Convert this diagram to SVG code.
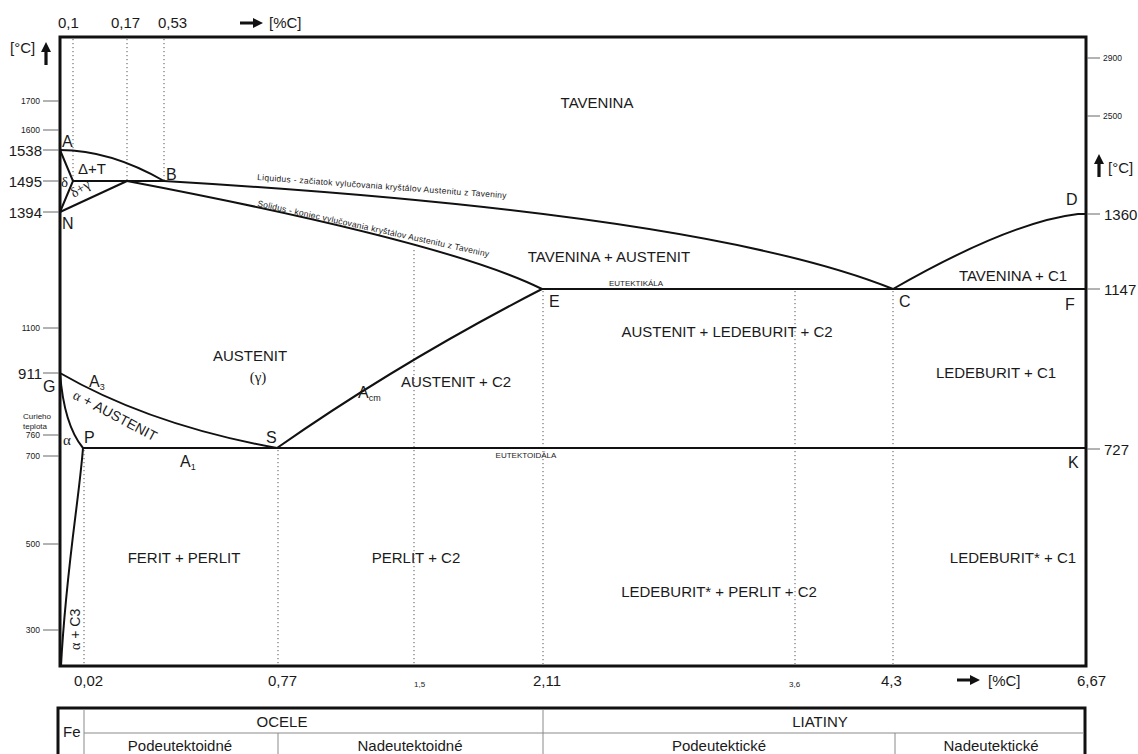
<svg xmlns="http://www.w3.org/2000/svg" width="1138" height="754" viewBox="0 0 1138 754">
<defs>
<style>
text { font-family: "Liberation Sans", Arial, sans-serif; fill: #1a1a1a; }
.big { font-size: 15px; }
.pt { font-size: 16px; }
.sm { font-size: 8.5px; }
.xs { font-size: 8px; }
.lab { font-size: 15px; text-anchor: middle; }
.gr { font-family: "Liberation Serif", "DejaVu Serif", serif; }
.frame { fill: none; stroke: #111; stroke-width: 3; }
.curve { fill: none; stroke: #111; stroke-width: 2; }
.dot { fill: none; stroke: #555; stroke-width: 1; stroke-dasharray: 1.2 2.8; }
.tick { stroke: #666; stroke-width: 1; }
.thin { fill: none; stroke: #8a8a8a; stroke-width: 1; }
.end { text-anchor: end; }
.mid { text-anchor: middle; }
</style>
<path id="arr" d="M0,-1.6 H13 V-5 L23,0 L13,5 V1.6 H0 Z" fill="#111"/>
</defs>
<rect width="1138" height="754" fill="#fff"/>

<g id="axes">
  <rect class="frame" x="60" y="37" width="1026" height="629"/>
  <g id="left-ticks">
    <line class="tick" x1="43" y1="101" x2="59" y2="101"/>
    <line class="tick" x1="43" y1="130" x2="59" y2="130"/>
    <line class="tick" x1="43" y1="150" x2="59" y2="150"/>
    <line class="tick" x1="43" y1="181" x2="59" y2="181"/>
    <line class="tick" x1="43" y1="212" x2="59" y2="212"/>
    <line class="tick" x1="43" y1="328" x2="59" y2="328"/>
    <line class="tick" x1="43" y1="373" x2="59" y2="373"/>
    <line class="tick" x1="43" y1="435" x2="59" y2="435"/>
    <line class="tick" x1="43" y1="456" x2="59" y2="456"/>
    <line class="tick" x1="43" y1="544" x2="59" y2="544"/>
    <line class="tick" x1="43" y1="630" x2="59" y2="630"/>
  </g>
  <g id="right-ticks">
    <line class="tick" x1="1087" y1="58" x2="1100" y2="58"/>
    <line class="tick" x1="1087" y1="116" x2="1100" y2="116"/>
    <line class="tick" x1="1087" y1="214" x2="1100" y2="214"/>
    <line class="tick" x1="1087" y1="289" x2="1100" y2="289"/>
    <line class="tick" x1="1087" y1="449" x2="1100" y2="449"/>
  </g>
  <g id="left-labels">
    <text class="big" x="10" y="53">[°C]</text>
    <use href="#arr" transform="translate(46,65) rotate(-90)"/>
    <text class="sm end" x="40" y="104">1700</text>
    <text class="sm end" x="40" y="133">1600</text>
    <text class="big end" x="42" y="155.5">1538</text>
    <text class="big end" x="42" y="186.5">1495</text>
    <text class="big end" x="42" y="217.5">1394</text>
    <text class="sm end" x="40" y="331">1100</text>
    <text class="big end" x="42" y="378.5">911</text>
    <text class="xs" x="23" y="419">Curieho</text>
    <text class="xs" x="23" y="429">teplota</text>
    <text class="sm end" x="40" y="438">760</text>
    <text class="sm end" x="40" y="459">700</text>
    <text class="sm end" x="40" y="547">500</text>
    <text class="sm end" x="40" y="633">300</text>
  </g>
  <g id="right-labels">
    <text class="sm" x="1103" y="61">2900</text>
    <text class="sm" x="1103" y="119">2500</text>
    <use href="#arr" transform="translate(1099,177) rotate(-90)"/>
    <text class="big" x="1108" y="173">[°C]</text>
    <text class="big" x="1104" y="219.5">1360</text>
    <text class="big" x="1104" y="294.5">1147</text>
    <text class="big" x="1104" y="454.5">727</text>
  </g>
  <g id="top-labels">
    <text class="big" x="58" y="28">0,1</text>
    <text class="big" x="111" y="28">0,17</text>
    <text class="big" x="158" y="28">0,53</text>
    <use href="#arr" transform="translate(240,23)"/>
    <text class="big" x="269" y="28">[%C]</text>
  </g>
  <g id="bottom-labels">
    <text class="big" x="74" y="686">0,02</text>
    <text class="big" x="268" y="686">0,77</text>
    <text class="xs" x="414" y="687">1,5</text>
    <text class="big" x="533" y="686">2,11</text>
    <text class="xs" x="789" y="687">3,6</text>
    <text class="big" x="881" y="686">4,3</text>
    <use href="#arr" transform="translate(957,680)"/>
    <text class="big" x="988" y="686">[%C]</text>
    <text class="big" x="1077" y="686">6,67</text>
  </g>
</g>

<g id="dotted-lines">
  <line class="dot" x1="73" y1="39" x2="73" y2="181"/>
  <line class="dot" x1="127" y1="39" x2="127" y2="181"/>
  <line class="dot" x1="164" y1="39" x2="164" y2="181"/>
  <line class="dot" x1="84" y1="450" x2="84" y2="664"/>
  <line class="dot" x1="278" y1="450" x2="278" y2="664"/>
  <line class="dot" x1="414" y1="250" x2="414" y2="664"/>
  <line class="dot" x1="543" y1="291" x2="543" y2="664"/>
  <line class="dot" x1="795" y1="291" x2="795" y2="664"/>
  <line class="dot" x1="893" y1="291" x2="893" y2="664"/>
</g>

<g id="phase-lines">
  <path class="curve" d="M60,150 Q110,150 164,181"/>
  <path class="curve" d="M60,150 L73,181 L60,212"/>
  <path class="curve" d="M73,181 L164,181"/>
  <path class="curve" d="M60,212 L127,181"/>
  <path class="curve" d="M164,181 Q704,213 893,289"/>
  <path class="curve" d="M127,181 Q448,242 542,289"/>
  <path class="curve" d="M893,289 Q1010,222 1078,214 L1086,214"/>
  <path class="curve" d="M542,289 H1086"/>
  <path class="curve" d="M277,448 Q400,362 542,289"/>
  <path class="curve" d="M60,373 Q150,425 277,448"/>
  <path class="curve" d="M60,373 Q64,425 83,448"/>
  <path class="curve" d="M83,448 H1086"/>
  <path class="curve" d="M83,448 C79,500 66,570 61,666"/>
</g>

<g id="points">
  <text class="pt" x="62" y="147">A</text>
  <text class="pt" x="166" y="180">B</text>
  <text class="pt" x="62" y="229">N</text>
  <text class="pt" x="43" y="392">G</text>
  <text class="pt" x="84" y="443">P</text>
  <text class="pt" x="266" y="443">S</text>
  <text class="pt" x="549" y="307">E</text>
  <text class="pt" x="899" y="307">C</text>
  <text class="pt" x="1066" y="205">D</text>
  <text class="pt" x="1065" y="310">F</text>
  <text class="pt" x="1068" y="468">K</text>
  <text class="pt" x="89" y="387">A<tspan font-size="9" dy="3">3</tspan></text>
  <text class="pt" x="180" y="467">A<tspan font-size="9" dy="3">1</tspan></text>
  <text class="pt" x="358" y="398">A<tspan font-size="9" dy="3">cm</tspan></text>
</g>

<g id="region-labels">
  <text class="lab" x="597" y="108">TAVENINA</text>
  <text class="big" x="78" y="174">Δ+T</text>
  <text class="big gr" x="61" y="187">δ</text>
  <text class="gr" font-size="14" transform="translate(74,198) rotate(-32)">δ+γ</text>
  <text class="sm" x="257" y="180" transform="rotate(4.2 257 180)" textLength="250">Liquidus - začiatok vylučovania kryštálov Austenitu z Taveniny</text>
  <text class="sm" x="257" y="206" transform="rotate(12.4 257 206)" textLength="237">Solidus - koniec vylučovania kryštálov Austenitu z Taveniny</text>
  <text class="lab" x="609" y="262">TAVENINA + AUSTENIT</text>
  <text class="xs mid" x="636" y="286">EUTEKTIKÁLA</text>
  <text class="lab" x="1013" y="281">TAVENINA + C1</text>
  <text class="lab" x="727" y="337">AUSTENIT + LEDEBURIT + C2</text>
  <text class="lab" x="250" y="361">AUSTENIT</text>
  <text class="lab gr" x="258" y="382">(γ)</text>
  <text class="lab" x="456" y="387">AUSTENIT + C2</text>
  <text class="lab" x="996" y="378">LEDEBURIT + C1</text>
  <text font-size="14" transform="translate(72,398) rotate(28)"><tspan class="gr">α</tspan> + AUSTENIT</text>
  <text class="big gr" x="63" y="445">α</text>
  <text class="xs mid" x="526" y="458">EUTEKTOIDÁLA</text>
  <text class="lab" x="184" y="563">FERIT + PERLIT</text>
  <text class="lab" x="416" y="563">PERLIT + C2</text>
  <text class="lab" x="1013" y="563">LEDEBURIT* + C1</text>
  <text class="lab" x="719" y="597">LEDEBURIT* + PERLIT + C2</text>
  <text font-size="14" transform="translate(80,650) rotate(-90)"><tspan class="gr">α</tspan> + C3</text>
</g>

<g id="table">
  <path class="frame" d="M58,760 V708 H1085 V760"/>
  <line class="thin" x1="84" y1="709" x2="84" y2="760"/>
  <line class="thin" x1="84" y1="733" x2="1084" y2="733"/>
  <line class="thin" x1="543" y1="709" x2="543" y2="760"/>
  <line class="thin" x1="278" y1="733" x2="278" y2="760"/>
  <line class="thin" x1="895" y1="733" x2="895" y2="760"/>
  <text class="big" x="63" y="737">Fe</text>
  <text class="lab" x="282" y="727">OCELE</text>
  <text class="lab" x="820" y="727">LIATINY</text>
  <text class="lab" x="180" y="751">Podeutektoidné</text>
  <text class="lab" x="410" y="751">Nadeutektoidné</text>
  <text class="lab" x="719" y="751">Podeutektické</text>
  <text class="lab" x="991" y="751">Nadeutektické</text>
</g>
</svg>
